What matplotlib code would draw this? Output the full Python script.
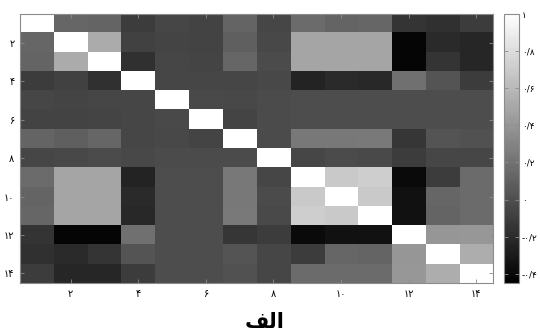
import matplotlib
matplotlib.use("Agg")
import matplotlib.pyplot as plt
import numpy as np

# correlation matrix of the 14 variables (row i, column j)
corr = [
    [1.00, 0.13, 0.12, -0.11, -0.05, -0.07, 0.12, -0.05, 0.16, 0.12, 0.13, -0.15, -0.17, -0.10],
    [0.13, 1.00, 0.52, -0.08, -0.06, -0.07, 0.09, -0.04, 0.49, 0.49, 0.49, -0.42, -0.21, -0.23],
    [0.12, 0.52, 1.00, -0.17, -0.05, -0.06, 0.13, -0.02, 0.49, 0.49, 0.49, -0.42, -0.15, -0.23],
    [-0.11, -0.08, -0.17, 1.00, -0.05, -0.05, -0.05, -0.04, -0.25, -0.21, -0.22, 0.19, 0.03, -0.11],
    [-0.05, -0.06, -0.05, -0.05, 1.00, -0.03, -0.04, -0.02, -0.01, -0.01, -0.01, -0.01, -0.01, -0.01],
    [-0.07, -0.07, -0.06, -0.05, -0.03, 1.00, -0.06, -0.02, -0.01, -0.01, -0.01, -0.01, -0.01, -0.01],
    [0.12, 0.09, 0.13, -0.05, -0.04, -0.06, 1.00, -0.02, 0.23, 0.23, 0.24, -0.14, 0.03, 0.02],
    [-0.05, -0.04, -0.02, -0.04, -0.02, -0.02, -0.02, 1.00, -0.05, -0.02, -0.03, -0.10, -0.05, -0.05],
    [0.16, 0.49, 0.49, -0.25, -0.01, -0.01, 0.23, -0.05, 1.00, 0.69, 0.72, -0.39, -0.10, 0.16],
    [0.12, 0.49, 0.49, -0.21, -0.01, -0.01, 0.23, -0.02, 0.69, 1.00, 0.69, -0.35, 0.13, 0.16],
    [0.13, 0.49, 0.49, -0.22, -0.01, -0.01, 0.24, -0.03, 0.72, 0.69, 1.00, -0.35, 0.12, 0.16],
    [-0.15, -0.42, -0.42, 0.19, -0.01, -0.01, -0.14, -0.10, -0.39, -0.35, -0.35, 1.00, 0.40, 0.41],
    [-0.17, -0.21, -0.15, 0.03, -0.01, -0.01, 0.03, -0.05, -0.10, 0.13, 0.12, 0.40, 1.00, 0.53],
    [-0.10, -0.23, -0.23, -0.11, -0.01, -0.01, 0.02, -0.05, 0.16, 0.16, 0.16, 0.41, 0.53, 1.00],
]
axis_ticks = [2, 4, 6, 8, 10, 12, 14]
cbar_ticks = [-0.4, -0.2, 0, 0.2, 0.4, 0.6, 0.8, 1]
v_min, v_max = -0.45, 1.0
# "الف" in presentation forms, visual order (matplotlib does no Arabic shaping)
panel_label = "\ufed2\ufedf\ufe8d"

fa_digits = str.maketrans("0123456789.", "۰۱۲۳۴۵۶۷۸۹/")


def to_fa(v):
    return ("%g" % v).translate(fa_digits)


plt.rcParams["font.family"] = ["DejaVu Sans"]
edge = "#8c8c8c"

fig = plt.figure(figsize=(5.4, 3.35), dpi=100)
ax = fig.add_axes([0.037, 0.155, 0.876, 0.803])
cax = fig.add_axes([0.933, 0.155, 0.028, 0.803])

n = len(corr)
im = ax.imshow(np.array(corr), cmap="gray", vmin=v_min, vmax=v_max,
               aspect="auto", interpolation="nearest",
               extent=(0.5, n + 0.5, n + 0.5, 0.5))

ax.set_xticks(axis_ticks)
ax.set_yticks(axis_ticks)
ax.set_xticklabels([to_fa(t) for t in axis_ticks], fontsize=7)
ax.set_yticklabels([to_fa(t) for t in axis_ticks], fontsize=7)
ax.tick_params(direction="in", length=3, width=0.6, color=edge,
               top=True, right=True, pad=4)
for s in ax.spines.values():
    s.set_color(edge)
    s.set_linewidth(0.8)

cb = fig.colorbar(im, cax=cax, ticks=cbar_ticks)
cb.outline.set_edgecolor(edge)
cb.outline.set_linewidth(0.8)
cax.set_yticklabels([to_fa(t) for t in cbar_ticks], fontsize=6.5)
cax.tick_params(direction="in", length=3, width=0.6, color=edge,
                left=True, right=True, pad=2)

fig.text(0.49, 0.04, panel_label, ha="center", va="center",
         fontsize=15, fontweight="bold")

fig.savefig("out.png", dpi=100)
